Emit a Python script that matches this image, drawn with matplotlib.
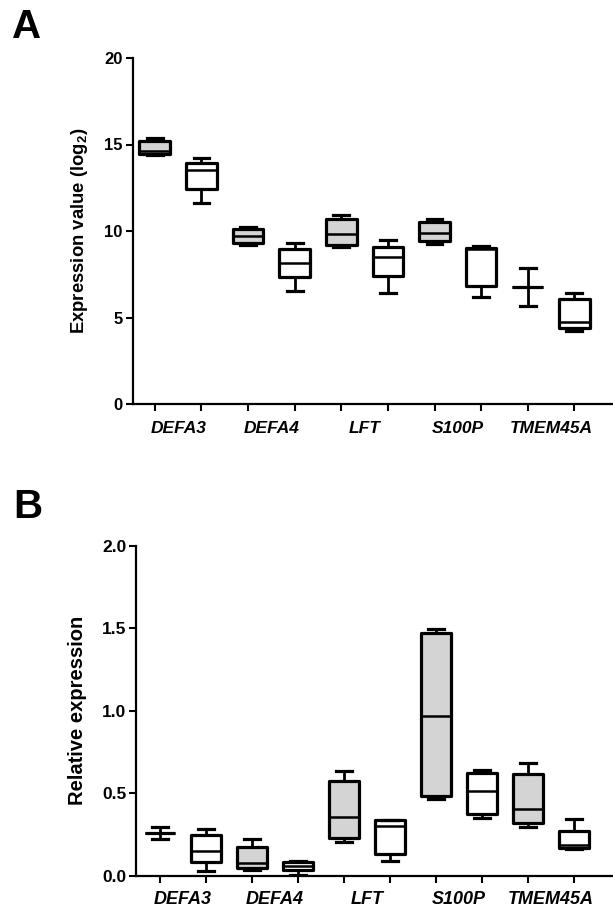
#!/usr/bin/env python3
import matplotlib
matplotlib.use("Agg")
import matplotlib.pyplot as plt

plt.rcParams['font.family'] = ['Liberation Sans', 'DejaVu Sans']
plt.rcParams['font.weight'] = 'bold'
plt.rcParams['mathtext.fontset'] = 'custom'
plt.rcParams['mathtext.bf'] = 'Liberation Sans:bold'
plt.rcParams['mathtext.rm'] = 'Liberation Sans:bold'
plt.rcParams['mathtext.default'] = 'bf'

genes = ['DEFA3', 'DEFA4', 'LFT', 'S100P', 'TMEM45A']
# box order: per gene grey (first) then white (second)
fills = ['#d4d4d4', 'white'] * 5

# Panel A: expression value (log2)
a_whislo = [14.40, 11.60, 9.17, 6.53, 9.06, 6.40, 9.25, 6.17, 5.66, 4.24]
a_q1 = [14.47, 12.41, 9.29, 7.32, 9.17, 7.40, 9.44, 6.84, 6.78, 4.37]
a_med = [14.62, 13.55, 9.70, 8.13, 9.83, 8.50, 9.88, 8.94, 6.78, 4.76]
a_q3 = [15.22, 13.91, 10.12, 8.98, 10.67, 9.06, 10.54, 9.02, 6.78, 6.05]
a_whishi = [15.36, 14.20, 10.25, 9.29, 10.92, 9.48, 10.70, 9.11, 7.88, 6.40]

# Panel B: relative expression
b_whislo = [0.221, 0.030, 0.035, 0.004, 0.204, 0.091, 0.465, 0.350, 0.297, 0.160]
b_q1 = [0.261, 0.081, 0.045, 0.035, 0.229, 0.132, 0.485, 0.372, 0.322, 0.166]
b_med = [0.261, 0.150, 0.075, 0.059, 0.354, 0.300, 0.971, 0.516, 0.407, 0.186]
b_q3 = [0.261, 0.245, 0.172, 0.081, 0.577, 0.338, 1.475, 0.625, 0.617, 0.271]
b_whishi = [0.297, 0.285, 0.225, 0.091, 0.635, 0.338, 1.497, 0.640, 0.686, 0.344]

W, H = 613, 911
fig = plt.figure(figsize=(W / 100, H / 100), dpi=100)


def draw_panel(left, top, bot, whislo, q1, med, q3, whishi, ylim, yticks,
               yticklabels, ylabel, label_right, xlim, letter, letter_xy,
               tick_fs, gene_fs, ylabel_fs):
    ax = fig.add_axes([left / W, 1 - bot / H, 1 - left / W, (bot - top) / H])
    stats = []
    for i in range(len(med)):
        stats.append(dict(whislo=whislo[i], q1=q1[i], med=med[i],
                          q3=q3[i], whishi=whishi[i], fliers=[]))
    bp = ax.bxp(stats, positions=range(len(med)), widths=0.66,
                patch_artist=True, showfliers=False, capwidths=0.34,
                boxprops=dict(linewidth=2.3, edgecolor='black'),
                medianprops=dict(color='black', linewidth=1.8),
                whiskerprops=dict(color='black', linewidth=2.0),
                capprops=dict(color='black', linewidth=2.3))
    for patch, fc in zip(bp['boxes'], fills):
        patch.set_facecolor(fc)
        patch.set_joinstyle('round')

    ax.set_xlim(*xlim)
    ax.set_ylim(*ylim)
    ax.set_yticks(yticks)
    ax.set_yticklabels(yticklabels, fontsize=tick_fs, fontweight='bold')
    ax.set_xticks(range(len(med)))
    ax.set_xticklabels([])
    for k, g in enumerate(genes):
        ax.text(2 * k + 0.5, -24 / (bot - top), g,
                transform=ax.get_xaxis_transform(),
                ha='center', va='center', fontsize=gene_fs,
                fontweight='bold', style='italic')
    ax.tick_params(axis='both', direction='out', length=5, width=1.5, pad=2)
    for s in ['top', 'right']:
        ax.spines[s].set_visible(False)
    for s in ['left', 'bottom']:
        ax.spines[s].set_linewidth(1.6)
    ax.set_ylabel(ylabel, fontsize=ylabel_fs, fontweight='bold')
    ax.yaxis.set_label_coords((label_right - left) / (W - left), 0.5)
    fig.text(letter_xy[0] / W, 1 - letter_xy[1] / H, letter, fontsize=29,
             fontweight='heavy', ha='center', va='center')
    return ax


# Panel A
draw_panel(132.5, 58, 404, a_whislo, a_q1, a_med, a_q3, a_whishi,
           (0, 20), [0, 5, 10, 15, 20], ['0', '5', '10', '15', '20'],
           r'Expression value (log$_2$)', 90, (-0.48, 9.83), 'A', (27, 27),
           12, 12.5, 13.3)

# Panel B
draw_panel(136, 546, 875.7, b_whislo, b_q1, b_med, b_q3, b_whishi,
           (0, 2.0), [0, 0.5, 1.0, 1.5, 2.0], ['0.0', '0.5', '1.0', '1.5', '2.0'],
           'Relative expression', 87, (-0.52, 9.85), 'B', (28, 507),
           12.5, 13, 14.5)

fig.savefig('out.png', dpi=100)
